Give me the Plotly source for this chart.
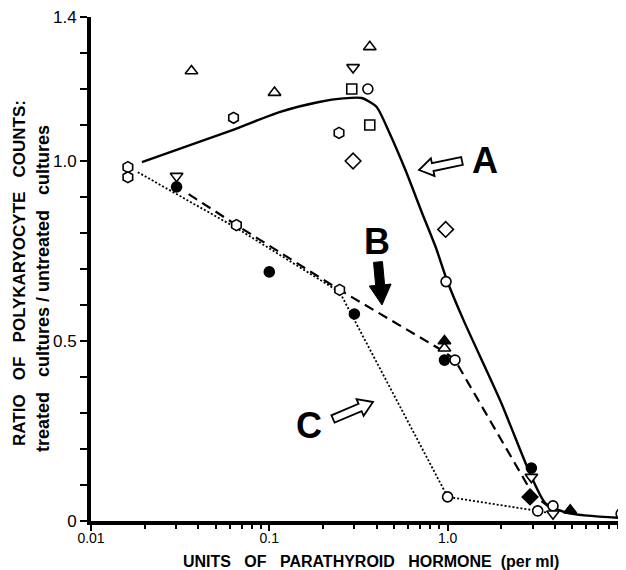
import plotly.graph_objects as go
import math

# ---------------- data ----------------
# Curve A (solid)
curve_a_x = [0.0193, 0.0621, 0.114, 0.190, 0.26, 0.33, 0.40, 0.47, 0.58, 0.72, 0.857, 1.0, 1.228, 2.0, 2.84, 3.53, 4.74, 9.75]
curve_a_y = [0.997, 1.086, 1.136, 1.164, 1.174, 1.175, 1.150, 1.08, 0.975, 0.855, 0.761, 0.664, 0.558, 0.328, 0.142, 0.05, 0.022, 0.008]
# Curve B (dashed)
curve_b_x = [0.0353, 0.0654, 0.248, 0.96, 1.1, 3.0, 3.9]
curve_b_y = [0.908, 0.822, 0.642, 0.47, 0.447, 0.075, 0.03]
# Curve C (dotted)
curve_c_x = [0.0183, 0.0654, 0.248, 1.0, 3.2, 3.9]
curve_c_y = [0.969, 0.814, 0.636, 0.067, 0.028, 0.02]

open_circle_x = [0.357, 0.98, 1.1, 1.0, 3.2, 3.9, 9.4]
open_circle_y = [1.20, 0.665, 0.447, 0.067, 0.028, 0.042, 0.02]
open_hex_x = [0.0161, 0.0161, 0.063, 0.0654, 0.246, 0.248]
open_hex_y = [0.983, 0.955, 1.12, 0.822, 1.078, 0.642]
open_tri_up_x = [0.0366, 0.107, 0.366, 0.96]
open_tri_up_y = [1.25, 1.19, 1.317, 0.48]
open_tri_down_x = [0.295, 0.0302, 2.95, 3.9]
open_tri_down_y = [1.26, 0.958, 0.122, 0.02]
open_square_x = [0.29, 0.366]
open_square_y = [1.20, 1.10]
open_diamond_x = [0.295, 0.975]
open_diamond_y = [1.0, 0.81]
filled_circle_x = [0.0302, 0.1, 0.3, 0.96, 2.95]
filled_circle_y = [0.928, 0.692, 0.575, 0.447, 0.147]
filled_tri_x = [0.96, 4.87]
filled_tri_y = [0.50, 0.03]
filled_diamond_x = [2.9]
filled_diamond_y = [0.067]

x_tick_vals = [0.01, 0.1, 1, 10]
x_tick_text = ["0.01", "0.1", "1.0", "10"]
y_tick_vals = [0, 0.5, 1.0, 1.4]
y_tick_text = ["0", "0.5", "1.0", "1.4"]

FONT = "Liberation Sans"

fig = go.Figure()

fig.add_trace(go.Scatter(x=curve_a_x, y=curve_a_y, mode="lines",
                         line=dict(color="black", width=2.4, shape="spline", smoothing=0.6),
                         cliponaxis=False, showlegend=False))
fig.add_trace(go.Scatter(x=curve_b_x, y=curve_b_y, mode="lines",
                         line=dict(color="black", width=2.2, dash="10px,6px"),
                         cliponaxis=False, showlegend=False))
fig.add_trace(go.Scatter(x=curve_c_x, y=curve_c_y, mode="lines",
                         line=dict(color="black", width=1.8, dash="2px,2px"),
                         cliponaxis=False, showlegend=False))

def markers(x, y, symbol, size, color="white", lw=1.6):
    fig.add_trace(go.Scatter(x=x, y=y, mode="markers", cliponaxis=False, showlegend=False,
                             marker=dict(symbol=symbol, size=size, color=color,
                                         line=dict(color="black", width=lw))))

markers(open_circle_x, open_circle_y, "circle", 10)
markers(open_hex_x, open_hex_y, "hexagon", 11)
markers(open_tri_up_x, open_tri_up_y, "triangle-up", 11)
markers(open_tri_down_x, open_tri_down_y, "triangle-down", 11)
markers(open_square_x, open_square_y, "square", 10)
markers(open_diamond_x, open_diamond_y, "diamond", 12)
markers(filled_circle_x, filled_circle_y, "circle", 10, color="black")
markers(filled_tri_x, filled_tri_y, "triangle-up", 11, color="black")
markers(filled_diamond_x, filled_diamond_y, "diamond", 12, color="black")

# ---------------- layout ----------------
# The page body adds an 8 px offset; the figure is sized so the plot area lands
# at screen x 91..626, y 17..521.
OFF = 8
W, H = 618, 562
L, R, T, B = 83, 0, 9, 49
PW, PH = W - L - R, H - T - B

def to_paper(px, py):
    return ((px - OFF) - L) / PW, (H - B - (py - OFF)) / PH

def arrow_path(tail, tip, shaft_half, head_half, head_len):
    dx, dy = tip[0] - tail[0], tip[1] - tail[1]
    n = math.hypot(dx, dy)
    ux, uy = dx / n, dy / n
    nx, ny = uy, -ux
    hx, hy = tip[0] - head_len * ux, tip[1] - head_len * uy
    pts = [tip,
           (hx + head_half * nx, hy + head_half * ny),
           (hx + shaft_half * nx, hy + shaft_half * ny),
           (tail[0] + shaft_half * nx, tail[1] + shaft_half * ny),
           (tail[0] - shaft_half * nx, tail[1] - shaft_half * ny),
           (hx - shaft_half * nx, hy - shaft_half * ny),
           (hx - head_half * nx, hy - head_half * ny)]
    pp = [to_paper(*p) for p in pts]
    return "M " + " L ".join(f"{a:.4f},{b:.4f}" for a, b in pp) + " Z"

shapes = [
    dict(type="path", xref="paper", yref="paper",
         path=arrow_path((462, 161), (419, 170), 4, 9, 14),
         fillcolor="white", line=dict(color="black", width=1.8)),
    dict(type="path", xref="paper", yref="paper",
         path=arrow_path((378, 262), (382, 305), 4.5, 11, 20),
         fillcolor="black", line=dict(color="black", width=1)),
    dict(type="path", xref="paper", yref="paper",
         path=arrow_path((333, 419), (373, 402), 4, 9, 14),
         fillcolor="white", line=dict(color="black", width=1.8)),
]

def ann(text, px, py, size, angle=0, bold=True):
    x, y = to_paper(px, py)
    return dict(text=f"<b>{text}</b>" if bold else text, x=x, y=y, xref="paper", yref="paper",
                showarrow=False, textangle=angle, xanchor="center", yanchor="middle",
                font=dict(family=FONT, size=size, color="black"))

nb = "\u00a0"
sp = nb * 3
annotations = [
    ann("A", 485, 160, 36),
    ann("B", 377, 241, 36),
    ann("C", 309, 425, 36),
    ann(f"UNITS{sp}OF{sp}PARATHYROID{sp}HORMONE{nb*2}(per{nb}ml)", 371, 561, 16),
    ann(f"RATIO{sp}OF{sp}POLYKARYOCYTE{sp}COUNTS:", 19, 273, 17, angle=-90),
    ann(f"treated{sp}cultures{nb}/{nb}untreated{sp}cultures", 43, 289, 18, angle=-90),
]

fig.update_layout(
    width=W, height=H,
    margin=dict(l=L, r=R, t=T, b=B, autoexpand=False),
    paper_bgcolor="white", plot_bgcolor="white",
    shapes=shapes, annotations=annotations,
    font=dict(family=FONT, color="black"),
    xaxis=dict(type="log", range=[-2, 1.0005], showgrid=False, zeroline=False, automargin=False,
               showline=True, linecolor="black", linewidth=4,
               tickvals=x_tick_vals, ticktext=x_tick_text, ticklabeloverflow="allow",
               ticklabelstandoff=-5,
               ticks="outside", ticklen=6, tickwidth=2, tickcolor="black",
               tickfont=dict(family=FONT, size=14, color="black"),
               minor=dict(ticks="outside", ticklen=4, tickwidth=1.5, tickcolor="black",
                          tickvals=[m * d for d in (0.01, 0.1, 1) for m in range(2, 10)])),
    yaxis=dict(range=[0, 1.4], showgrid=False, zeroline=False, automargin=False,
               showline=True, linecolor="black", linewidth=4,
               tickvals=y_tick_vals, ticktext=y_tick_text, ticklabeloverflow="allow",
               ticks="outside", ticklen=7, tickwidth=2, tickcolor="black",
               tickfont=dict(family=FONT, size=17, color="black"),
               minor=dict(ticks="outside", ticklen=7, tickwidth=1.5, tickcolor="black",
                          dtick=0.1, tick0=0)),
)

fig.write_html("out.html")
